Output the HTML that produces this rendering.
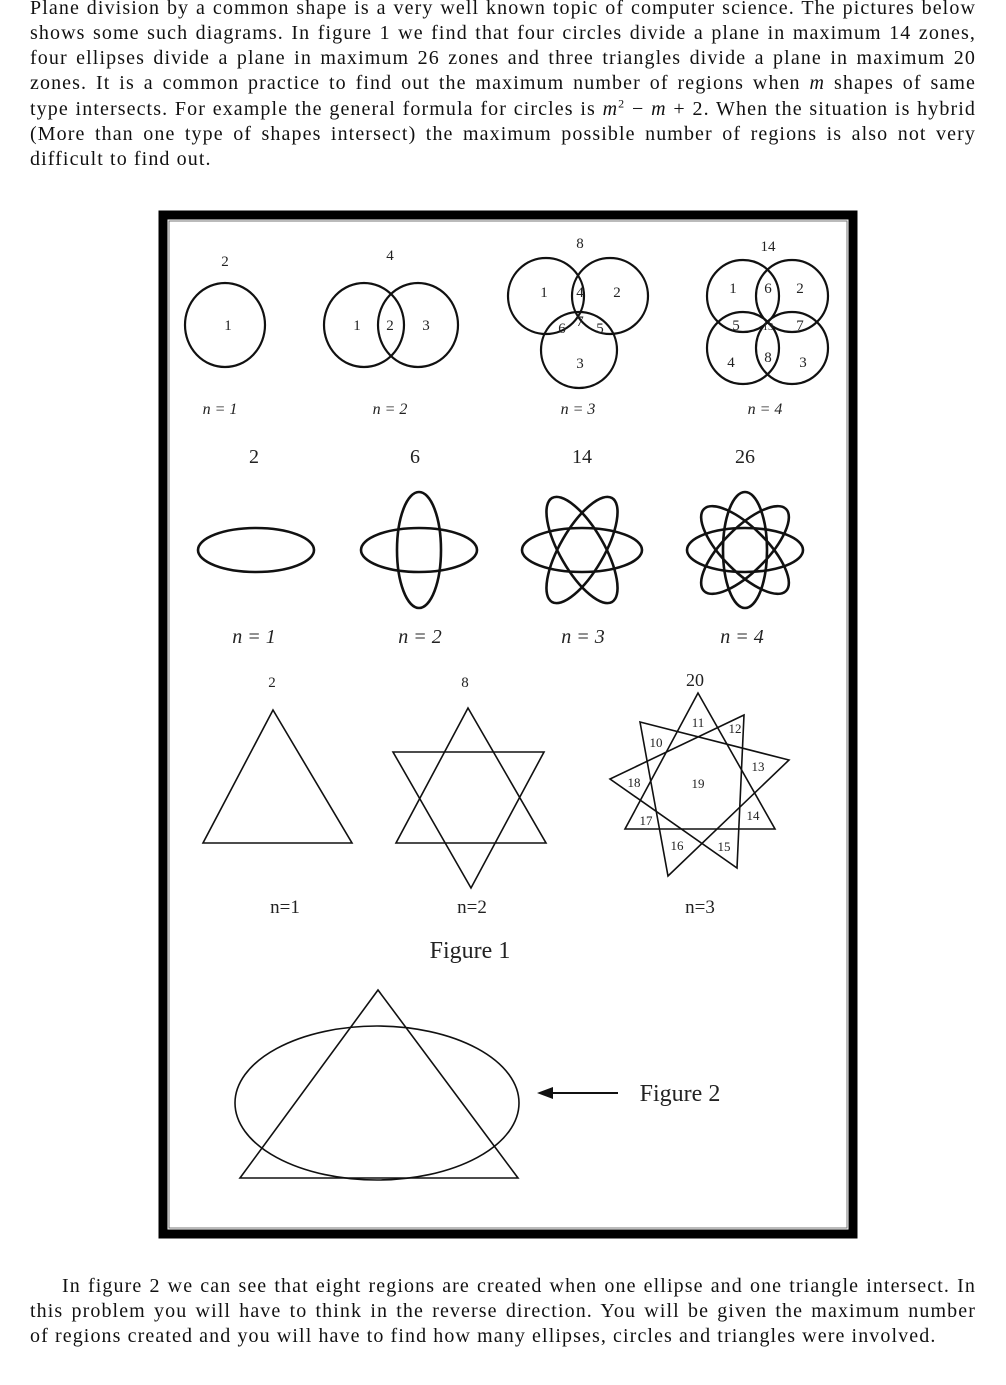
<!DOCTYPE html>
<html><head><meta charset="utf-8"><style>
body{margin:0;background:#fff;width:1006px;height:1385px;position:relative;overflow:hidden;font-family:"Liberation Serif",serif;color:#111}
.l{position:absolute;left:30px;width:946px;font-size:20px;letter-spacing:1.1px;line-height:25px;text-align:justify;text-align-last:justify;white-space:nowrap}
.n{text-align-last:left}
</style></head><body>
<div class="l" style="top:-4px">Plane division by a common shape is a very well known topic of computer science. The pictures below</div>
<div class="l" style="top:21px">shows some such diagrams. In figure 1 we find that four circles divide a plane in maximum 14 zones,</div>
<div class="l" style="top:46px">four ellipses divide a plane in maximum 26 zones and three triangles divide a plane in maximum 20</div>
<div class="l" style="top:71px">zones. It is a common practice to find out the maximum number of regions when <i>m</i> shapes of same</div>
<div class="l" style="top:97px">type intersects. For example the general formula for circles is <i>m</i><sup style="font-size:12px;line-height:0">2</sup> − <i>m</i> + 2. When the situation is hybrid</div>
<div class="l" style="top:122px">(More than one type of shapes intersect) the maximum possible number of regions is also not very</div>
<div class="l n" style="top:147px">difficult to find out.</div>
<div class="l" style="top:1274px;left:62px;width:914px">In figure 2 we can see that eight regions are created when one ellipse and one triangle intersect. In</div>
<div class="l" style="top:1299px">this problem you will have to think in the reverse direction. You will be given the maximum number</div>
<div class="l n" style="top:1324px">of regions created and you will have to find how many ellipses, circles and triangles were involved.</div>
<svg style="position:absolute;left:0;top:0" width="1006" height="1385" font-family="Liberation Serif, serif" fill="none" stroke="#111">
<rect x="163" y="215" width="690" height="1019" stroke="#000" stroke-width="9"/>
<rect x="169" y="221" width="678" height="1007" stroke="#777" stroke-width="1"/>
<g stroke-width="2.2">
<ellipse cx="225" cy="325" rx="40" ry="42"/>
<ellipse cx="364" cy="325" rx="40" ry="42"/><ellipse cx="418" cy="325" rx="40" ry="42"/>
<circle cx="546" cy="296" r="38"/><circle cx="610" cy="296" r="38"/><circle cx="579" cy="350" r="38"/>
<circle cx="743" cy="296" r="36"/><circle cx="792" cy="296" r="36"/><circle cx="743" cy="348" r="36"/><circle cx="792" cy="348" r="36"/>
</g>
<g stroke-width="2.6">
<ellipse cx="256" cy="550" rx="58" ry="22"/>
<ellipse cx="419" cy="550" rx="58" ry="22"/><ellipse cx="419" cy="550" rx="22" ry="58"/>
<g transform="translate(582,550)"><ellipse rx="60" ry="22"/><ellipse rx="60" ry="22" transform="rotate(60)"/><ellipse rx="60" ry="22" transform="rotate(120)"/></g>
<g transform="translate(745,550)"><ellipse rx="58" ry="22"/><ellipse rx="58" ry="22" transform="rotate(45)"/><ellipse rx="58" ry="22" transform="rotate(90)"/><ellipse rx="58" ry="22" transform="rotate(135)"/></g>
</g>
<g stroke-width="1.6">
<polygon points="273,710 203,843 352,843"/>
<polygon points="468,708 396,843 546,843"/><polygon points="393,752 544,752 471,888"/>
<polygon points="698,693 625,829 775,829"/><polygon points="640,722 789,760 668,876"/><polygon points="744,715 610,779 737,868"/>
<ellipse cx="377" cy="1103" rx="142" ry="77"/>
<polygon points="378,990 240,1178 518,1178"/>
<line x1="548" y1="1093" x2="618" y2="1093" stroke-width="2"/>
</g>
<polygon points="537,1093 553,1087 553,1099" fill="#111" stroke="none"/>
<g fill="#222" stroke="none" font-size="15" text-anchor="middle">
<text x="225" y="266">2</text><text x="390" y="260">4</text><text x="580" y="248">8</text><text x="768" y="251">14</text>
<text x="228" y="330">1</text><text x="357" y="330">1</text><text x="390" y="330">2</text><text x="426" y="330">3</text>
<text x="544" y="297">1</text><text x="580" y="297">4</text><text x="617" y="297">2</text><text x="562" y="333">6</text><text x="580" y="326">7</text><text x="600" y="333">5</text><text x="580" y="368">3</text>
<text x="733" y="293">1</text><text x="768" y="293">6</text><text x="800" y="293">2</text><text x="736" y="330">5</text><text x="768" y="330" font-size="11">13</text><text x="800" y="330">7</text><text x="731" y="367">4</text><text x="768" y="362">8</text><text x="803" y="367">3</text>
<g font-style="italic" font-size="16"><text x="220" y="414">n = 1</text><text x="390" y="414">n = 2</text><text x="578" y="414">n = 3</text><text x="765" y="414">n = 4</text></g>
<g font-size="20"><text x="254" y="463">2</text><text x="415" y="463">6</text><text x="582" y="463">14</text><text x="745" y="463">26</text></g>
<g font-style="italic" font-size="20"><text x="254" y="643">n = 1</text><text x="420" y="643">n = 2</text><text x="583" y="643">n = 3</text><text x="742" y="643">n = 4</text></g>
<text x="272" y="687">2</text><text x="465" y="687">8</text><text x="695" y="686" font-size="18">20</text>
<g font-size="13"><text x="698" y="727">11</text><text x="735" y="733">12</text><text x="656" y="747">10</text><text x="758" y="771">13</text><text x="698" y="788">19</text><text x="634" y="787">18</text><text x="753" y="820">14</text><text x="646" y="825">17</text><text x="677" y="850">16</text><text x="724" y="851">15</text></g>
<g font-size="19"><text x="285" y="913">n=1</text><text x="472" y="913">n=2</text><text x="700" y="913">n=3</text></g>
<text x="470" y="958" font-size="24">Figure 1</text>
<text x="680" y="1101" font-size="24">Figure 2</text>
</g>
</svg>
</body></html>
